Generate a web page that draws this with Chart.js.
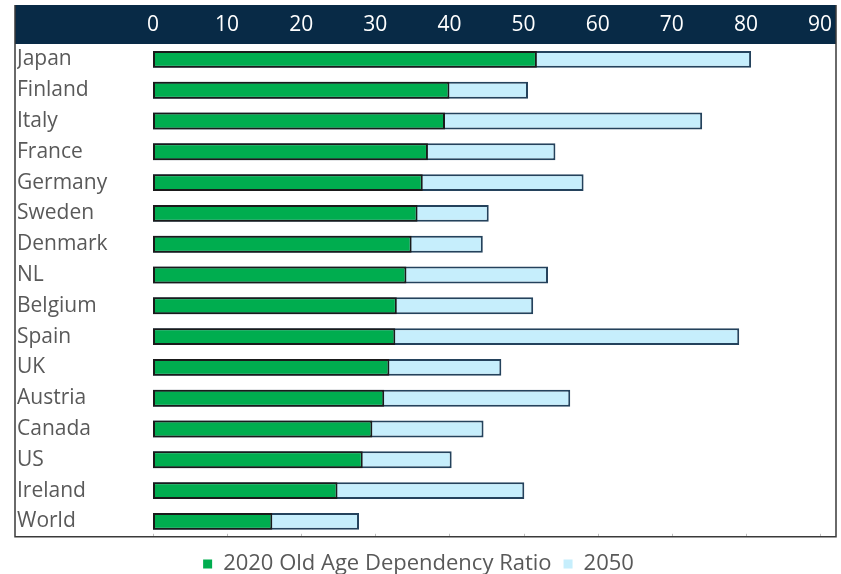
<!DOCTYPE html>
<html>
<head>
<meta charset="utf-8">
<script src="https://cdn.jsdelivr.net/npm/chart.js@4"></script>
<style>
  body { margin: 0; background: #fff; }
  #wrap { width: 841px; height: 574px; }
</style>
</head>
<body>
<div id="wrap"><canvas id="myChart" width="841" height="574"></canvas></div>
<script>
// data
const countries = ["Japan", "Finland", "Italy", "France", "Germany", "Sweden", "Denmark", "NL",
  "Belgium", "Spain", "UK", "Austria", "Canada", "US", "Ireland", "World"];
const ratio2020 = [51.8, 40.0, 39.4, 37.1, 36.4, 35.7, 34.9, 34.2, 32.9, 32.7, 31.9, 31.2, 29.6, 28.3, 24.9, 16.1];
const ratio2050 = [80.7, 50.6, 74.1, 54.3, 58.1, 45.3, 44.5, 53.3, 51.3, 79.1, 47.0, 56.3, 44.6, 40.3, 50.1, 27.8];
const xMin = 0;
const xMax = 90;
const xStep = 10;

const NAVY = "#082a46";
const GREY = "#595959";

// frame + dark header band behind the top axis
const framePlugin = {
  id: "frame",
  beforeDraw(chart) {
    const { ctx } = chart;
    const x = chart.scales.x;
    const left = 15, right = 836;
    ctx.save();
    ctx.fillStyle = NAVY;
    ctx.fillRect(left, x.top, right - left, x.bottom - x.top);
    ctx.restore();
  },
  afterDraw(chart) {
    const { ctx, chartArea } = chart;
    const x = chart.scales.x;
    const left = 15, right = 836;
    ctx.save();
    // small tick marks along the bottom
    ctx.strokeStyle = "#bfbfbf";
    ctx.lineWidth = 1;
    x.ticks.forEach((t) => {
      const px = Math.round(x.getPixelForValue(t.value)) + 0.5;
      ctx.beginPath();
      ctx.moveTo(px, chartArea.bottom - 3);
      ctx.lineTo(px, chartArea.bottom);
      ctx.stroke();
    });
    ctx.strokeStyle = "#3a3a3a";
    ctx.lineWidth = 1.5;
    ctx.beginPath();
    ctx.moveTo(left, x.top);
    ctx.lineTo(left, chartArea.bottom);
    ctx.lineTo(right, chartArea.bottom);
    ctx.lineTo(right, x.top);
    ctx.stroke();
    ctx.restore();
  }
};

const ctx = document.getElementById("myChart");

new Chart(ctx, {
  type: "bar",
  data: {
    labels: countries,
    datasets: [
      {
        label: "2020 Old Age Dependency Ratio",
        data: ratio2020,
        backgroundColor: "#00ad4f",
        borderColor: "#1a1a1a",
        borderWidth: 2,
        borderSkipped: false,
        grouped: false,
        categoryPercentage: 0.55,
        barPercentage: 1,
      },
      {
        label: "2050",
        data: ratio2050,
        backgroundColor: "#c6eefc",
        borderColor: "#24425c",
        borderWidth: 2,
        borderSkipped: false,
        grouped: false,
        categoryPercentage: 0.55,
        barPercentage: 1,
      },
    ],
  },
  options: {
    indexAxis: "y",
    responsive: false,
    animation: false,
    layout: {
      padding: { top: 5, left: 17, right: 21, bottom: -11 },
    },
    scales: {
      x: {
        position: "top",
        min: xMin,
        max: xMax,
        ticks: {
          stepSize: xStep,
          color: "#ffffff",
          font: { family: "Open Sans", size: 21 },
          padding: 6,
        },
        grid: { display: false, drawTicks: false },
        border: { display: false },
        afterFit(scale) {
          scale.height = 39;
        },
      },
      y: {
        ticks: {
          color: GREY,
          font: { family: "Open Sans", size: 21 },
          crossAlign: "far",
          padding: 0,
        },
        grid: { display: false, drawTicks: false },
        border: { display: false },
        afterFit(scale) {
          scale.width = 136;
        },
      },
    },
    plugins: {
      legend: {
        position: "bottom",
        title: {
          display: true,
          text: "",
          font: { size: 1 },
          padding: { top: 3, bottom: 0 },
        },
        labels: {
          color: GREY,
          font: { family: "Open Sans", size: 22 },
          boxWidth: 9,
          boxHeight: 9,
          padding: 12,
          generateLabels(chart) {
            return Chart.defaults.plugins.legend.labels.generateLabels(chart).map((l) => ({
              ...l,
              lineWidth: 0,
              strokeStyle: "rgba(0,0,0,0)",
            }));
          },
        },
      },
      tooltip: { enabled: false },
    },
  },
  plugins: [framePlugin],
});
</script>
</body>
</html>
